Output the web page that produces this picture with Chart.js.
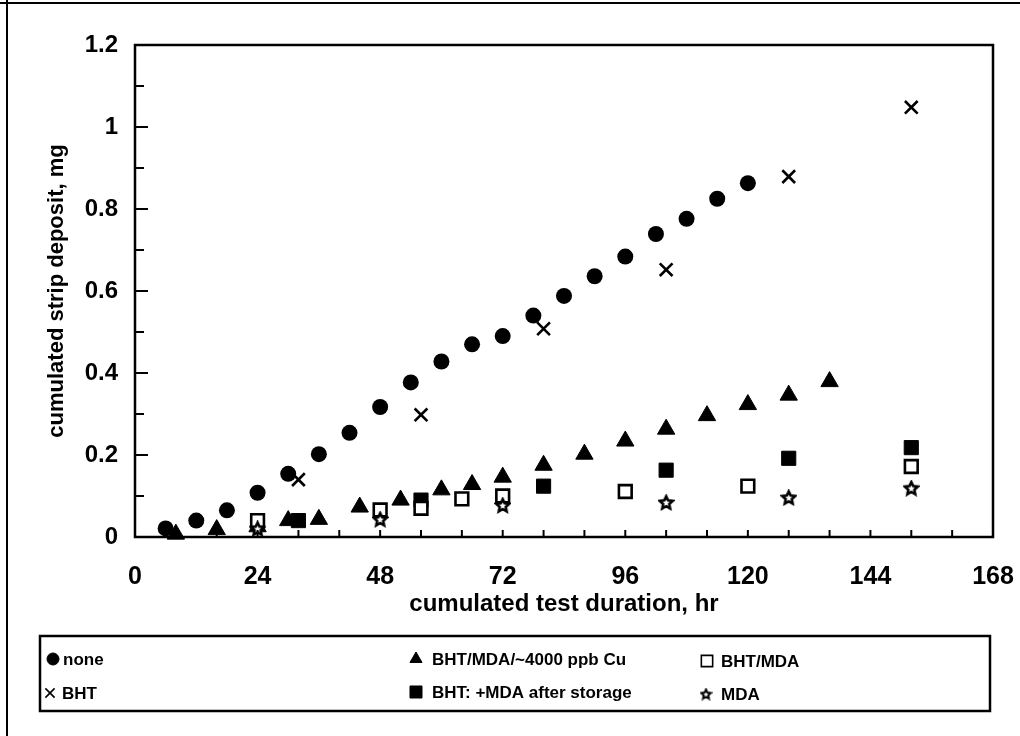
<!DOCTYPE html>
<html>
<head>
<meta charset="utf-8">
<script src="https://cdn.jsdelivr.net/npm/chart.js@4.4.1/dist/chart.umd.min.js"></script>
<style>
html, body { margin: 0; padding: 0; background: #fff; }
#wrap { position: relative; width: 1020px; height: 736px; }
</style>
</head>
<body>
<div id="wrap"><canvas id="depositChart" width="1020" height="736"></canvas></div>
<script>
// values (hr, mg)
const noneHours = [6, 12, 18, 24, 30, 36, 42, 48, 54, 60, 66, 72, 78, 84, 90, 96, 102, 108, 114, 120];
const noneValues = [0.021, 0.04, 0.065, 0.108, 0.154, 0.202, 0.254, 0.317, 0.377, 0.428, 0.47, 0.49, 0.54, 0.588, 0.636, 0.684, 0.739, 0.776, 0.825, 0.863];

const bhtHours = [32, 56, 80, 104, 128, 152];
const bhtValues = [0.14, 0.298, 0.508, 0.652, 0.879, 1.048];

const cuHours = [8, 16, 24, 30, 36, 44, 52, 60, 66, 72, 80, 88, 96, 104, 112, 120, 128, 136];
const cuValues = [0.007, 0.018, 0.025, 0.04, 0.043, 0.073, 0.09, 0.115, 0.128, 0.146, 0.175, 0.202, 0.234, 0.263, 0.296, 0.323, 0.346, 0.379];

const storageHours = [32, 56, 80, 104, 128, 152];
const storageValues = [0.04, 0.09, 0.124, 0.163, 0.192, 0.218];

const bhtMdaHours = [24, 48, 56, 64, 72, 96, 120, 152];
const bhtMdaValues = [0.04, 0.066, 0.07, 0.093, 0.1, 0.111, 0.124, 0.172];

const mdaHours = [24, 48, 72, 104, 128, 152];
const mdaValues = [0.02, 0.043, 0.077, 0.084, 0.096, 0.119];

const xTicksLabelled = [0, 24, 48, 72, 96, 120, 144, 168];

const FONT = '"Liberation Sans", Arial, Helvetica, sans-serif';

function pts(xs, ys) {
    return xs.map((x, i) => ({ x: x, y: ys[i] }));
}

// petite étoile à 5 branches (contour) pour MDA
function makeStar(size, lw) {
    const c = document.createElement('canvas');
    c.width = size; c.height = size;
    const g = c.getContext('2d');
    const cx = size / 2, cy = size / 2 + 0.5;
    const ro = size / 2 - lw / 2 - 0.5, ri = ro * 0.48;
    g.beginPath();
    for (let k = 0; k < 10; k++) {
        const r = k % 2 === 0 ? ro : ri;
        const a = -Math.PI / 2 + k * Math.PI / 5;
        const px = cx + r * Math.cos(a), py = cy + r * Math.sin(a);
        if (k === 0) g.moveTo(px, py); else g.lineTo(px, py);
    }
    g.closePath();
    g.fillStyle = '#fff';
    g.fill();
    g.lineWidth = lw;
    g.strokeStyle = '#000';
    g.lineJoin = 'miter';
    g.stroke();
    return c;
}

const starBig = makeStar(17, 2.6);
const starSmall = makeStar(13, 2);

const legendItems = [
    { x: 53, y: 659, tx: 63, text: 'none', style: { pointStyle: 'circle', radius: 6, borderWidth: 1 }, fill: '#000' },
    { x: 416, y: 659, tx: 432, text: 'BHT/MDA/~4000 ppb Cu', style: { pointStyle: 'triangle', radius: 7, borderWidth: 1 }, fill: '#000' },
    { x: 707, y: 661, tx: 721, text: 'BHT/MDA', style: { pointStyle: 'rect', radius: 8, borderWidth: 1.6 }, fill: '#fff' },
    { x: 50, y: 693, tx: 62, text: 'BHT', style: { pointStyle: 'crossRot', radius: 6.5, borderWidth: 1.6 }, fill: '#000' },
    { x: 416, y: 692, tx: 432, text: 'BHT: +MDA after storage', style: { pointStyle: 'rect', radius: 8.5, borderWidth: 1 }, fill: '#000' },
    { x: 706, y: 694, tx: 721, text: 'MDA', style: { pointStyle: starSmall, radius: 6, borderWidth: 0 }, fill: '#000' }
];

const framePlugin = {
    id: 'frame',
    afterDraw(chart) {
        const ctx = chart.ctx;
        const a = chart.chartArea;
        const xs = chart.scales.x, ys = chart.scales.y;
        ctx.save();
        ctx.strokeStyle = '#000';

        // cadre du graphique
        ctx.lineWidth = 2.5;
        ctx.strokeRect(a.left, a.top, a.right - a.left, a.bottom - a.top);

        // graduations internes
        ctx.lineWidth = 2;
        ctx.beginPath();
        ys.ticks.forEach(t => {
            const p = ys.getPixelForValue(t.value);
            const major = Math.round(t.value * 10) % 2 === 0;
            ctx.moveTo(a.left, p);
            ctx.lineTo(a.left + (major ? 13 : 9), p);
        });
        xs.ticks.forEach(t => {
            const p = xs.getPixelForValue(t.value);
            ctx.moveTo(p, a.bottom);
            ctx.lineTo(p, a.bottom - 7);
        });
        ctx.stroke();

        // cadre extérieur de la figure
        ctx.lineWidth = 2;
        ctx.beginPath();
        ctx.moveTo(0, 3);
        ctx.lineTo(1020, 3);
        ctx.moveTo(7, 0);
        ctx.lineTo(7, 736);
        ctx.stroke();

        // légende
        ctx.lineWidth = 2.5;
        ctx.strokeRect(40, 636, 950, 75);
        ctx.font = 'bold 17px ' + FONT;
        ctx.fillStyle = '#000';
        ctx.textBaseline = 'middle';
        ctx.textAlign = 'left';
        legendItems.forEach(it => {
            ctx.fillStyle = it.fill;
            ctx.strokeStyle = '#000';
            ctx.lineWidth = it.style.borderWidth;
            Chart.helpers.drawPoint(ctx, { pointStyle: it.style.pointStyle, radius: it.style.radius, borderWidth: it.style.borderWidth, rotation: 0 }, it.x, it.y);
            ctx.fillStyle = '#000';
            ctx.fillText(it.text, it.tx, it.y + 1);
        });
        ctx.restore();
    }
};

const ctx = document.getElementById('depositChart').getContext('2d');

new Chart(ctx, {
    type: 'scatter',
    data: {
        datasets: [
            {
                label: 'MDA',
                data: pts(mdaHours, mdaValues),
                pointStyle: starBig,
                pointRadius: 8
            },
            {
                label: 'BHT/MDA',
                data: pts(bhtMdaHours, bhtMdaValues),
                pointStyle: 'rect',
                pointRadius: 9,
                backgroundColor: '#fff',
                borderColor: '#000',
                borderWidth: 2.6
            },
            {
                label: 'BHT: +MDA after storage',
                data: pts(storageHours, storageValues),
                pointStyle: 'rect',
                pointRadius: 10,
                backgroundColor: '#000',
                borderColor: '#000',
                borderWidth: 1
            },
            {
                label: 'BHT/MDA/~4000 ppb Cu',
                data: pts(cuHours, cuValues),
                pointStyle: 'triangle',
                pointRadius: 10,
                backgroundColor: '#000',
                borderColor: '#000',
                borderWidth: 1
            },
            {
                label: 'BHT',
                data: pts(bhtHours, bhtValues),
                pointStyle: 'crossRot',
                pointRadius: 9,
                backgroundColor: '#000',
                borderColor: '#000',
                borderWidth: 2.6
            },
            {
                label: 'none',
                data: pts(noneHours, noneValues),
                pointStyle: 'circle',
                pointRadius: 8,
                backgroundColor: '#000',
                borderColor: '#000',
                borderWidth: 0
            }
        ]
    },
    options: {
        responsive: false,
        animation: false,
        clip: false,
        layout: { padding: { left: 0, right: 27, top: 45, bottom: 109 } },
        plugins: {
            legend: { display: false },
            tooltip: { enabled: false }
        },
        scales: {
            x: {
                type: 'linear',
                min: 0,
                max: 168,
                grid: { display: false, drawTicks: false },
                border: { display: false },
                ticks: {
                    stepSize: 8,
                    autoSkip: false,
                    maxRotation: 0,
                    padding: 25,
                    color: '#000',
                    font: { family: FONT, size: 25, weight: 'bold' },
                    callback: v => xTicksLabelled.includes(v) ? String(v) : ''
                },
                title: {
                    display: true,
                    text: 'cumulated test duration, hr',
                    color: '#000',
                    font: { family: FONT, size: 24, weight: 'bold' },
                    padding: { top: 0, bottom: 8 }
                },
                afterFit: s => {
                    s.height = 90;
                    s.paddingLeft = 0;
                    s.paddingRight = 0;
                }
            },
            y: {
                type: 'linear',
                min: 0,
                max: 1.2,
                grid: { display: false, drawTicks: false },
                border: { display: false },
                ticks: {
                    stepSize: 0.1,
                    autoSkip: false,
                    padding: 17,
                    color: '#000',
                    font: { family: FONT, size: 24, weight: 'bold' },
                    callback: v => Math.round(v * 10) % 2 ? '' : String(Math.round(v * 10) / 10)
                },
                title: {
                    display: true,
                    text: 'cumulated strip deposit, mg',
                    color: '#000',
                    font: { family: FONT, size: 22, weight: 'bold' },
                    padding: { top: 44, bottom: 0 }
                },
                afterFit: s => {
                    s.width = 135;
                    s.paddingTop = 0;
                    s.paddingBottom = 0;
                }
            }
        }
    },
    plugins: [framePlugin]
});
</script>
</body>
</html>
